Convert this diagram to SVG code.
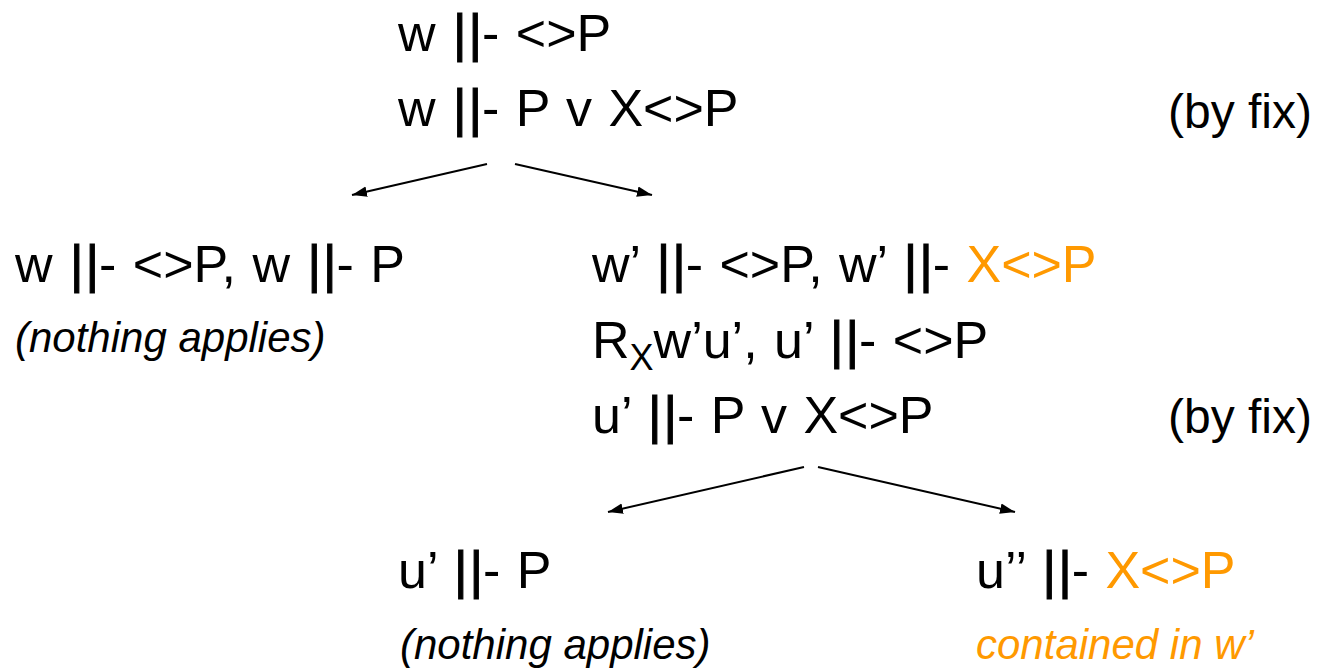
<svg xmlns="http://www.w3.org/2000/svg" width="1330" height="671" viewBox="0 0 1330 671">
  <style>
    text { font-family: "Liberation Sans", Arial, sans-serif; font-size: 52px; fill: #000; word-spacing: 2px; }
    .b { stroke: #000; stroke-width: 1.1px; }
    .side { font-size: 48px; word-spacing: 0; }
    .note { font-style: italic; font-size: 42px; word-spacing: 0; }
    .sub { font-size: 36px; }
    .hl { fill: #FF9900; }
    .edge { stroke: #000; stroke-width: 2; fill: none; marker-end: url(#head); }
  </style>
  <defs>
    <marker id="head" viewBox="0 0 10 10" refX="10" refY="5" markerWidth="7.5" markerHeight="7.5" orient="auto" markerUnits="strokeWidth">
      <path d="M0,1.5 L10,5 L0,8.5 z" fill="#000"/>
    </marker>
  </defs>
  <rect width="1330" height="671" fill="#fff"/>

  <g id="root">
    <text x="398" y="51">w <tspan class="b" dx="1">|</tspan><tspan class="b" dx="2">|</tspan><tspan>- &lt;&gt;P</tspan></text>
    <text x="398" y="126">w <tspan class="b" dx="1">|</tspan><tspan class="b" dx="2">|</tspan><tspan>- P v X&lt;&gt;P</tspan></text>
    <text class="side" x="1168" y="128">(by fix)</text>
  </g>

  <g id="left-branch">
    <text x="15" y="282">w <tspan class="b" dx="1">|</tspan><tspan class="b" dx="2">|</tspan><tspan>- &lt;&gt;P, w </tspan><tspan class="b" dx="1">|</tspan><tspan class="b" dx="2">|</tspan><tspan>- P</tspan></text>
    <text class="note" x="15" y="352">(nothing applies)</text>
  </g>

  <g id="right-branch">
    <text x="592" y="282">w’ <tspan class="b" dx="1">|</tspan><tspan class="b" dx="2">|</tspan><tspan>- &lt;&gt;P, w’ </tspan><tspan class="b" dx="1">|</tspan><tspan class="b" dx="2">|</tspan><tspan>- </tspan><tspan class="hl">X&lt;&gt;P</tspan></text>
    <text x="592" y="358">R<tspan class="sub" dy="12">X</tspan><tspan dy="-12">w’u’, u’ </tspan><tspan class="b" dx="1">|</tspan><tspan class="b" dx="2">|</tspan><tspan>- &lt;&gt;P</tspan></text>
    <text x="592" y="433">u’ <tspan class="b" dx="1">|</tspan><tspan class="b" dx="2">|</tspan><tspan>- P v X&lt;&gt;P</tspan></text>
    <text class="side" x="1168" y="433">(by fix)</text>
  </g>

  <g id="leaf-left">
    <text x="398" y="588">u’ <tspan class="b" dx="1">|</tspan><tspan class="b" dx="2">|</tspan><tspan>- P</tspan></text>
    <text class="note" x="400" y="659">(nothing applies)</text>
  </g>

  <g id="leaf-right">
    <text x="976" y="588">u’’ <tspan class="b" dx="1">|</tspan><tspan class="b" dx="2">|</tspan><tspan>- </tspan><tspan class="hl">X&lt;&gt;P</tspan></text>
    <text class="note hl" x="976" y="659">contained in w’</text>
  </g>

  <g id="connectors">
    <line class="edge" x1="487" y1="164" x2="352" y2="195"/>
    <line class="edge" x1="515" y1="164" x2="652" y2="195"/>
    <line class="edge" x1="804" y1="467" x2="608" y2="512"/>
    <line class="edge" x1="818" y1="467" x2="1015" y2="512"/>
  </g>
</svg>
